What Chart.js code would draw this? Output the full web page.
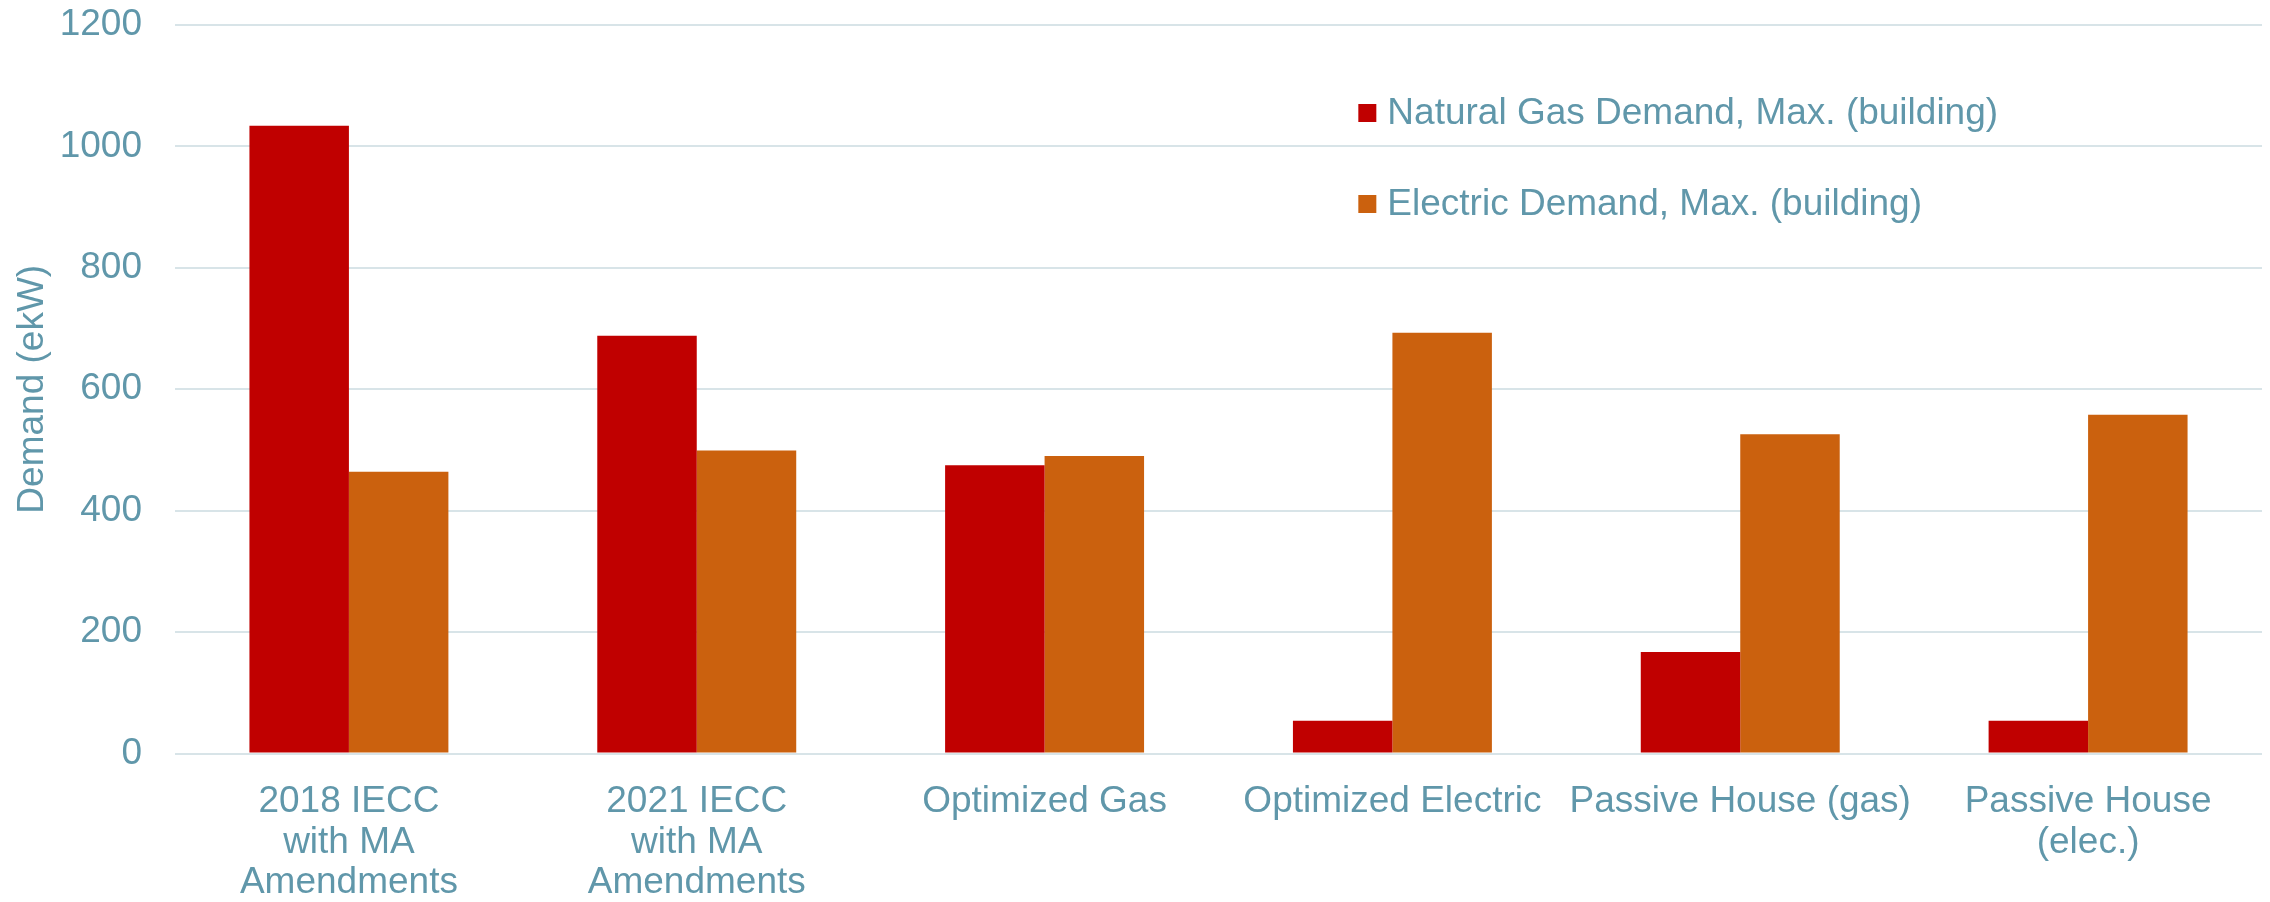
<!DOCTYPE html>
<html>
<head>
<meta charset="utf-8">
<script src="https://cdn.jsdelivr.net/npm/chart.js@4"></script>
<style>
  html, body { margin: 0; padding: 0; background: #fff; }
  #wrap { width: 2270px; height: 902px; }
</style>
</head>
<body>
<div id="wrap"><canvas id="grafico"></canvas></div>
<script>
const categorias = [
  ["2018 IECC", "with MA", "Amendments"],
  ["2021 IECC", "with MA", "Amendments"],
  "Optimized Gas",
  "Optimized Electric",
  "Passive House (gas)",
  ["Passive House", "(elec.)"],
];
const demandaGas = [1034, 688, 475, 54, 167, 54];
const demandaEletrica = [464, 499, 490, 693, 526, 558];
const nomesSeries = ["Natural Gas Demand, Max. (building)", "Electric Demand, Max. (building)"];
const coresSeries = ["#C00000", "#CB610E"];
const ticksY = [0, 200, 400, 600, 800, 1000, 1200];

const corTexto = "#6097AA";
const corGrade = "#D8E4E8";
const fonte = { family: "'Liberation Sans', Arial, sans-serif", size: 37 };

// legenda desenhada dentro da área do gráfico
const legendaInterna = {
  id: "legendaInterna",
  afterDraw(chart) {
    const { ctx, chartArea } = chart;
    const x0 = chartArea.left + chartArea.width * 0.567;
    const y0 = chartArea.top + 88;
    ctx.save();
    ctx.font = "37px " + fonte.family;
    ctx.textBaseline = "middle";
    chart.data.datasets.forEach((ds, i) => {
      const y = y0 + i * 91;
      ctx.fillStyle = ds.backgroundColor;
      ctx.fillRect(x0, y - 9, 18, 18);
      ctx.fillStyle = corTexto;
      ctx.fillText(ds.label, x0 + 29, y + 1);
    });
    ctx.restore();
  },
};

Chart.defaults.font.family = fonte.family;
Chart.defaults.color = corTexto;

new Chart(document.getElementById("grafico"), {
  type: "bar",
  data: {
    labels: categorias,
    datasets: [
      { label: nomesSeries[0], data: demandaGas, backgroundColor: coresSeries[0] },
      { label: nomesSeries[1], data: demandaEletrica, backgroundColor: coresSeries[1] },
    ],
  },
  options: {
    responsive: true,
    maintainAspectRatio: false,
    animation: false,
    layout: { padding: { left: 0, right: 8, top: 25, bottom: 0 } },
    datasets: {
      bar: { barPercentage: 1, categoryPercentage: 0.572 },
    },
    plugins: {
      legend: { display: false },
      tooltip: { enabled: false },
    },
    scales: {
      x: {
        grid: { display: false, drawTicks: false },
        border: { display: false },
        ticks: {
          font: { size: 37, lineHeight: 1.1 },
          color: corTexto,
          padding: 28,
          maxRotation: 0,
          autoSkip: false,
        },
        afterFit(scale) { scale.height = 148.5; },
      },
      y: {
        min: 0,
        max: 1200,
        afterBuildTicks(scale) { scale.ticks = ticksY.map(v => ({ value: v })); },
        grid: { color: corGrade, lineWidth: 2, drawTicks: true, tickLength: 33, tickColor: "rgba(0,0,0,0)" },
        border: { display: false },
        ticks: {
          font: { size: 37 },
          color: corTexto,
          padding: 0,
          callback: (v) => String(v),
        },
        title: {
          display: true,
          text: "Demand (ekW)",
          font: { size: 37 },
          color: corTexto,
          padding: { top: 11, bottom: 0 },
        },
        afterFit(scale) { scale.width = 175; },
      },
    },
  },
  plugins: [legendaInterna],
});
</script>
</body>
</html>
